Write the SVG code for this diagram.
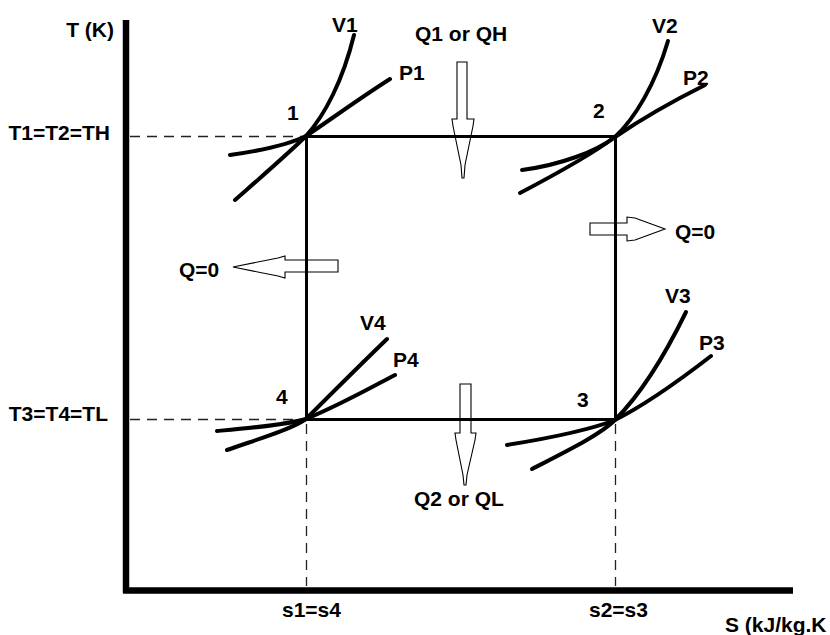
<svg xmlns="http://www.w3.org/2000/svg" width="830" height="635" viewBox="0 0 830 635">
<style>
text{font-family:"Liberation Sans",Arial,sans-serif;font-weight:bold;font-size:21px;fill:#000}
.axis{stroke:#000;stroke-width:6.5;fill:none}
.cycle{stroke:#000;stroke-width:3;fill:none}
.dash{stroke:#222;stroke-width:1.3;stroke-dasharray:10 7;fill:none}
.curve{stroke:#000;stroke-width:4;fill:none;stroke-linecap:round}
.heat{stroke:#000;stroke-width:1.1;fill:none;stroke-linejoin:miter}
</style>
<rect width="830" height="635" fill="#fff"/>
<g id="axes">
<line class="axis" x1="126" y1="20" x2="126" y2="593"/>
<line class="axis" x1="123" y1="590.5" x2="793" y2="590.5"/>
<text x="114" y="37" text-anchor="end">T (K)</text>
<text x="725" y="632">S (kJ/kg.K</text>
<text x="110" y="140" text-anchor="end">T1=T2=TH</text>
<text x="108" y="421" text-anchor="end">T3=T4=TL</text>
<text x="282" y="617">s1=s4</text>
<text x="589" y="617">s2=s3</text>
<line class="dash" x1="130" y1="136.5" x2="302" y2="136.5"/>
<line class="dash" x1="130" y1="419.5" x2="302" y2="419.5"/>
<line class="dash" x1="306.5" y1="424" x2="306.5" y2="586"/>
<line class="dash" x1="615.5" y1="424" x2="615.5" y2="586"/>
</g>
<g id="connectors">
<path class="cycle" d="M306.5,136.5 H615.5 V419.5 H306.5 Z"/>
</g>
<g id="state1">
<path class="curve" d="M235,200 C260,178 290,152 306,136 C325,115 343,80 354,35"/>
<path class="curve" d="M230,155 C265,150 290,144 306,136 C330,120 360,98 390,79"/>
<text x="332" y="32">V1</text>
<text x="399" y="80">P1</text>
<text x="287" y="120">1</text>
</g>
<g id="state2">
<path class="curve" d="M520,193 C560,172 595,152 615,137 C635,118 655,85 668,41"/>
<path class="curve" d="M522,170 C560,165 595,152 615,137 C640,120 675,100 705,85"/>
<text x="652" y="33">V2</text>
<text x="683" y="85">P2</text>
<text x="593" y="118">2</text>
</g>
<g id="state3">
<path class="curve" d="M532,469 C565,452 600,435 615,420 C640,395 665,355 686,312"/>
<path class="curve" d="M507,445 C550,438 590,430 615,420 C645,405 680,380 711,356"/>
<text x="665" y="303">V3</text>
<text x="699" y="350">P3</text>
<text x="577" y="407">3</text>
</g>
<g id="state4">
<path class="curve" d="M227,450 C255,440 290,430 306,419 C335,390 360,365 387,339"/>
<path class="curve" d="M217,431 C250,428 285,425 306,419 C340,405 370,388 395,375"/>
<text x="360" y="330">V4</text>
<text x="393" y="367">P4</text>
<text x="276" y="404">4</text>
</g>
<g id="heat-in">
<path class="heat" d="M457,62 H467 V119 H474 L473,126 L465,165 L464,178 H462 L461,165 L453,126 L452,119 H457 Z"/>
<text x="415" y="41">Q1 or QH</text>
</g>
<g id="heat-out">
<path class="heat" d="M460,384 H471 V433 H476 L475,440 L467,475 L466,485 H464 L463,475 L456,440 L455,433 H460 Z"/>
<text x="414" y="506">Q2 or QL</text>
</g>
<g id="q0-right">
<path class="heat" d="M590,223 H627 V217 L635,218 L665,229 L635,240 L627,241 V235 H590 Z"/>
<text x="675" y="239">Q=0</text>
</g>
<g id="q0-left">
<path class="heat" d="M338,260 H285 V256 L278,258 L233,267 L278,276 L285,278 V272 H338 Z"/>
<text x="179" y="277">Q=0</text>
</g>
</svg>
